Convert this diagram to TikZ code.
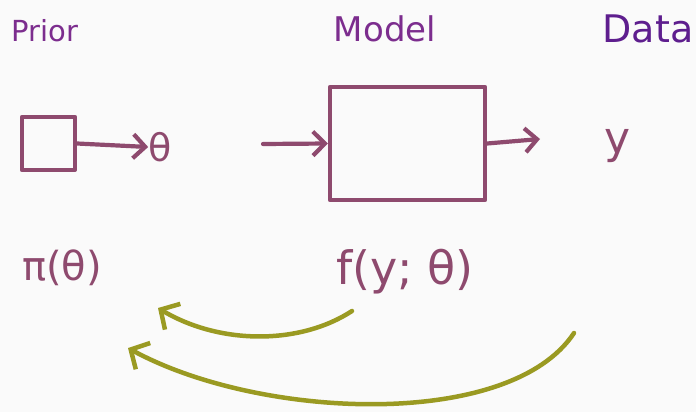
\documentclass[tikz,border=0pt]{standalone}
\usepackage{fontspec}
\setmainfont{DejaVu Sans}
\usetikzlibrary{arrows.meta}
\definecolor{plum}{HTML}{8E4A6E}
\definecolor{head}{HTML}{7C2D8E}
\definecolor{headd}{HTML}{5E1E8E}
\definecolor{olive}{HTML}{9A9A22}
\definecolor{bg}{HTML}{FAFAFA}
\begin{document}
\begin{tikzpicture}[x=1pt,y=-1pt,
  ink/.style={draw=plum,line width=4.2pt,line cap=round,line join=round},
  arr/.style={ink,-{Straight Barb[length=12pt,width=24pt,line width=4.2pt]}},
  garr/.style={draw=olive,line width=4.5pt,line cap=round,-{Straight Barb[length=14pt,width=30pt,line width=4.5pt]}},
  title/.style={inner sep=0pt},
  lbl/.style={text=plum,inner sep=0pt}]
\fill[bg] (0,0) rectangle (696,412);
\useasboundingbox (0,0) rectangle (696,412);
\node[title,text=head,font=\fontsize{29}{30}\selectfont] (prior) at (45,31) {Prior};
\node[title,text=head,font=\fontsize{34}{36}\selectfont] (model) at (385,29) {Model};
\node[title,text=headd,font=\fontsize{38}{40}\selectfont] (data) at (648,29) {Data};
\node[ink,minimum width=53pt,minimum height=53pt,inner sep=0pt] (pbox) at (48.5,143.5) {};
\node[lbl,font=\fontsize{38}{40}\selectfont] (theta) at (160,147) {θ};
\coordinate (in) at (263,144);
\node[ink,minimum width=155pt,minimum height=113pt,inner sep=0pt] (mbox) at (407.5,143.5) {};
\coordinate (out) at (540,139);
\node[lbl,font=\fontsize{44}{46}\selectfont] (y) at (618,146) {y};
\node[lbl,font=\fontsize{40}{42}\selectfont] (pi) at (62,268) {π(θ)};
\node[lbl,font=\fontsize{46}{48}\selectfont] (f) at (405,272) {f(y; θ)};
\draw[arr] (pbox.east) -- (theta.west);
\draw[arr] (in) -- (mbox.west);
\draw[arr] (mbox.east) -- (out);
\coordinate (g1s) at (352,311);
\coordinate (g1e) at (158,308);
\coordinate (g2s) at (574,333);
\coordinate (g2e) at (128,348);
\draw[garr] (g1s) .. controls (300,345) and (220,345) .. (g1e);
\draw[garr] (g2s) .. controls (510,430) and (260,420) .. (g2e);
\end{tikzpicture}
\end{document}
